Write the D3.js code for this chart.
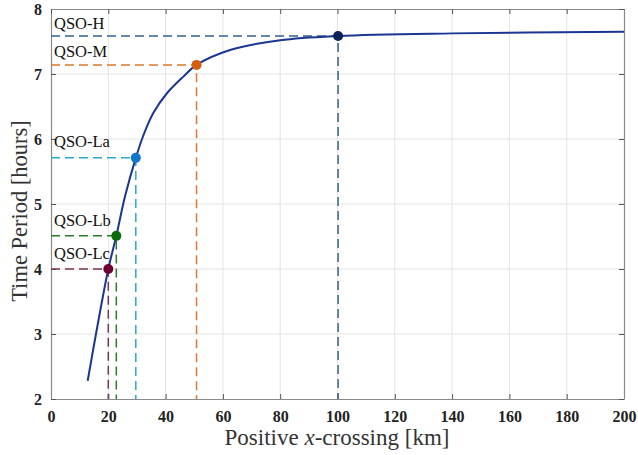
<!DOCTYPE html>
<html>
<head>
<meta charset="utf-8">
<script src="https://cdn.jsdelivr.net/npm/d3@7"></script>
<style>
  body { margin: 0; background: #fff; }
  svg { display: block; }
</style>
</head>
<body>
<script>
// curve
const crossing = [12.8, 15.7, 20, 22.8, 25.8, 29.6, 32.2, 35.7, 40.4, 46.2, 50.8, 62.5, 80, 100.2, 140, 200];
const period   = [2.28, 3.0, 4.0, 4.51, 5.11, 5.71, 6.05, 6.40, 6.70, 6.96, 7.14, 7.37, 7.52, 7.585, 7.625, 7.65];

// marked orbits
const orbitNames  = ["QSO-Lc", "QSO-Lb", "QSO-La", "QSO-M", "QSO-H"];
const orbitX      = [20, 22.8, 29.6, 50.8, 100.2];
const orbitY      = [4.0, 4.51, 5.71, 7.14, 7.585];
const markColors  = ["#6e0035", "#0a6b0a", "#1177cc", "#d35f13", "#0d2358"];
const dashColors  = ["#7a3555", "#2a7a2a", "#2aa8c8", "#d97a30", "#36608c"];
const labelY      = [4.15, 4.66, 5.88, 7.26, 7.69];

const xTicks = d3.range(0, 201, 20);
const yTicks = d3.range(2, 9, 1);

const SERIF = '"Liberation Serif", serif';

const W = 638, H = 455;
const m = { left: 51, right: 14, top: 9, bottom: 56 };

const svg = d3.select("body").append("svg").attr("width", W).attr("height", H);

const x = d3.scaleLinear().domain([0, 200]).range([m.left, W - m.right]);
const y = d3.scaleLinear().domain([2, 8]).range([H - m.bottom, m.top]);

// grid
svg.append("g").selectAll("line").data(xTicks.slice(1, -1)).enter().append("line")
  .attr("x1", d => x(d)).attr("x2", d => x(d))
  .attr("y1", y(2)).attr("y2", y(8))
  .attr("stroke", "#e3e3e3").attr("stroke-width", 1);
svg.append("g").selectAll("line").data(yTicks.slice(1, -1)).enter().append("line")
  .attr("y1", d => y(d)).attr("y2", d => y(d))
  .attr("x1", x(0)).attr("x2", x(200))
  .attr("stroke", "#e3e3e3").attr("stroke-width", 1);

// axes
const xAxis = svg.append("g").attr("transform", "translate(0," + y(2) + ")")
  .call(d3.axisBottom(x).tickValues(xTicks).tickFormat(d3.format("d"))
    .tickSizeInner(-5).tickSizeOuter(0).tickPadding(12));
const yAxis = svg.append("g").attr("transform", "translate(" + x(0) + ",0)")
  .call(d3.axisLeft(y).tickValues(yTicks).tickFormat(d3.format("d"))
    .tickSizeInner(-5).tickSizeOuter(0).tickPadding(9));
const xTop = svg.append("g").attr("transform", "translate(0," + y(8) + ")")
  .call(d3.axisTop(x).tickValues(xTicks).tickSizeInner(-5).tickSizeOuter(0).tickFormat(""));
const yRight = svg.append("g").attr("transform", "translate(" + x(200) + ",0)")
  .call(d3.axisRight(y).tickValues(yTicks).tickSizeInner(-5).tickSizeOuter(0).tickFormat(""));
[xAxis, yAxis, xTop, yRight].forEach(g => {
  g.attr("font-family", SERIF).attr("font-size", 16).attr("font-weight", "bold");
  g.select(".domain").attr("stroke", "#8a8a8a").attr("stroke-width", 1.2);
  g.selectAll(".tick line").attr("stroke", "#555");
  g.selectAll(".tick text").attr("fill", "#222");
});

// dashed guides
orbitNames.forEach((n, i) => {
  svg.append("path")
    .attr("d", "M" + x(0) + "," + y(orbitY[i]) + "H" + x(orbitX[i]) + "V" + y(2))
    .attr("fill", "none").attr("stroke", dashColors[i])
    .attr("stroke-width", 1.5).attr("stroke-dasharray", "9,5");
});

// curve
const line = d3.line().x(d => x(d[0])).y(d => y(d[1])).curve(d3.curveCatmullRom.alpha(0.5));
svg.append("path")
  .datum(crossing.map((c, i) => [c, period[i]]))
  .attr("d", line).attr("fill", "none")
  .attr("stroke", "#1b3592").attr("stroke-width", 2);

// markers
svg.append("g").selectAll("circle").data(orbitNames).enter().append("circle")
  .attr("cx", (d, i) => x(orbitX[i])).attr("cy", (d, i) => y(orbitY[i]))
  .attr("r", 5).attr("fill", (d, i) => markColors[i]);

// labels
svg.append("g").selectAll("text").data(orbitNames).enter().append("text")
  .attr("font-family", SERIF).attr("font-size", 16.5).attr("fill", "#111")
  .attr("x", x(0) + 3).attr("y", (d, i) => y(labelY[i]))
  .text(d => d);

svg.append("text")
  .attr("font-family", SERIF).attr("font-size", 23).attr("fill", "#333")
  .attr("x", 337).attr("y", 445).attr("text-anchor", "middle")
  .html('Positive <tspan font-style="italic">x</tspan>-crossing [km]');
svg.append("text")
  .attr("font-family", SERIF).attr("font-size", 22.5).attr("fill", "#333")
  .attr("transform", "translate(27,211) rotate(-90)")
  .attr("text-anchor", "middle")
  .text("Time Period [hours]");
</script>
</body>
</html>
